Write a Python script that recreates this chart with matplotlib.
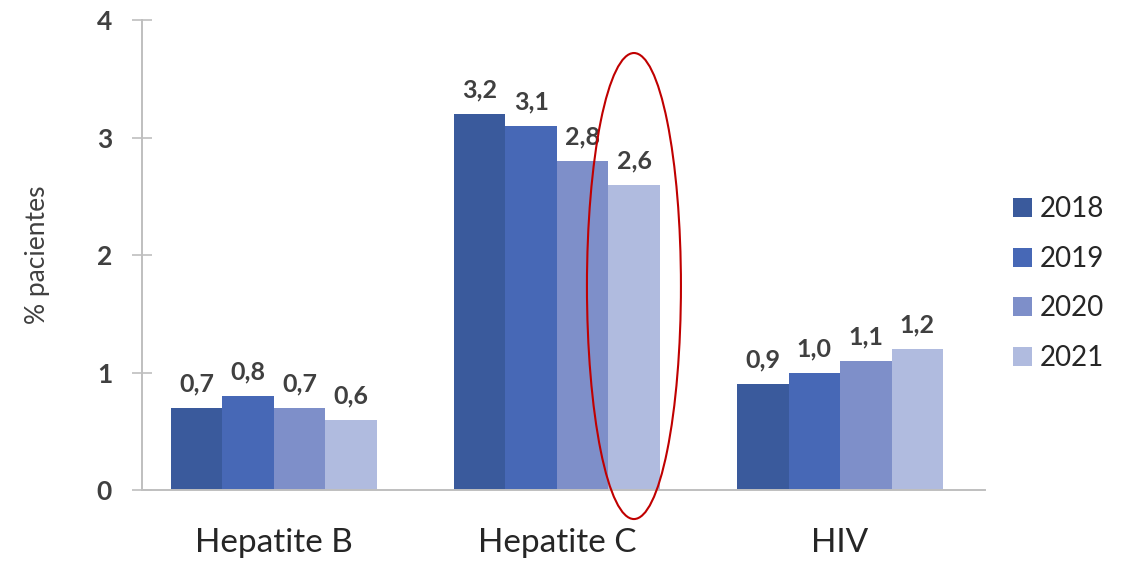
import matplotlib
matplotlib.use("Agg")
import matplotlib.pyplot as plt
from matplotlib.patches import Ellipse
import numpy as np

categories = ["Hepatite B", "Hepatite C", "HIV"]
years = ["2018", "2019", "2020", "2021"]
values_2018 = [0.7, 3.2, 0.9]
values_2019 = [0.8, 3.1, 1.0]
values_2020 = [0.7, 2.8, 1.1]
values_2021 = [0.6, 2.6, 1.2]
y_ticks = [0, 1, 2, 3, 4]

series = [values_2018, values_2019, values_2020, values_2021]
colors = ["#3A5A9C", "#4768B6", "#7E8FC9", "#B0BBDF"]

plt.rcParams["font.family"] = ["Lato", "DejaVu Sans"]
text_color = "#404040"
axis_gray = "#BFBFBF"

fig = plt.figure(figsize=(11.24, 5.65), dpi=100)
ax = fig.add_axes([0.1263, 0.1327, 0.7500, 0.8319])

x = np.arange(len(categories))
width = 0.182
for i, (vals, yr, col) in enumerate(zip(series, years, colors)):
    pos = x + (i - 1.5) * width
    bars = ax.bar(pos, vals, width=width, color=col, label=yr, zorder=2)
    for b, v in zip(bars, vals):
        ax.annotate(f"{v:.1f}".replace(".", ","),
                    (b.get_x() + b.get_width() / 2, v),
                    xytext=(0, 9), textcoords="offset points",
                    ha="center", va="bottom", fontsize=18,
                    fontweight="bold", color=text_color)

ax.set_xlim(-0.466, 2.512)
ax.set_ylim(0, 4)
ax.set_yticks(y_ticks)
ax.set_yticklabels([str(t) for t in y_ticks], fontsize=19,
                   color=text_color, fontweight="bold")
ax.set_xticks(x)
ax.set_xticklabels(categories, fontsize=24, color="#262626")
ax.tick_params(axis="x", length=0, pad=27)
ax.tick_params(axis="y", direction="inout", length=15, width=1.2,
               color=axis_gray, pad=14)

for side in ("top", "right"):
    ax.spines[side].set_visible(False)
for side in ("left", "bottom"):
    ax.spines[side].set_color(axis_gray)
    ax.spines[side].set_linewidth(1.4)

ax.set_ylabel("% pacientes", fontsize=19, color=text_color, labelpad=34)

# highlight the 2021 bar of Hepatite C
ax.add_patch(Ellipse((1.272, 1.736), 0.332, 3.966, fill=False,
                     edgecolor="#C00000", linewidth=1.5, clip_on=False,
                     zorder=5))

fig.legend(loc="center left", bbox_to_anchor=(0.901, 0.498),
           frameon=False, fontsize=20, handlelength=0.68,
           handleheight=0.68, handletextpad=0.3, labelspacing=0.85,
           borderpad=0, borderaxespad=0, labelcolor="#262626")

fig.savefig("out.png", dpi=100, facecolor="white")
